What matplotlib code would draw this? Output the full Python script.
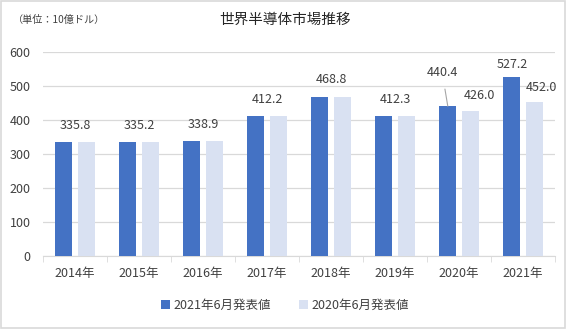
import matplotlib
matplotlib.use("Agg")
import matplotlib.pyplot as plt
import numpy as np

plt.rcParams["font.family"] = ["Noto Sans CJK JP", "DejaVu Sans"]

years = ["2014年", "2015年", "2016年", "2017年", "2018年", "2019年", "2020年", "2021年"]
jun2021 = [335.8, 335.2, 338.9, 412.2, 468.8, 412.3, 440.4, 527.2]
jun2020 = [335.8, 335.2, 338.9, 412.2, 468.8, 412.3, 426.0, 452.0]
series_names = ["2021年6月発表値", "2020年6月発表値"]
yticks = [0, 100, 200, 300, 400, 500, 600]

DARK = "#4472C4"
LIGHT = "#D9E1F2"
TEXT = "#404040"
GRID = "#D9D9D9"
FS = 9

fig = plt.figure(figsize=(5.67, 3.29), dpi=100)
ax = fig.add_axes([43 / 567, 1 - 256 / 329, 512 / 567, 204 / 329])

x = np.arange(len(years))
w = 0.27
off = 0.175
ax.bar(x - off, jun2021, width=w, color=DARK, label=series_names[0], zorder=3)
ax.bar(x + off, jun2020, width=w, color=LIGHT, label=series_names[1], zorder=3)

ax.set_xlim(-0.5, len(years) - 0.5)
ax.set_ylim(0, 600)
ax.set_yticks(yticks)
ax.set_xticks(x)
ax.set_xticklabels(years)
ax.set_xticks(np.arange(len(years) + 1) - 0.5, minor=True)
ax.tick_params(axis="x", which="major", length=0, pad=8, labelsize=FS, colors=TEXT)
ax.tick_params(axis="x", which="minor", length=4, color=GRID)
ax.tick_params(axis="y", length=0, pad=9, labelsize=FS, colors=TEXT)
ax.yaxis.grid(True, color=GRID, linewidth=0.9, zorder=0)
for side in ["top", "right", "left"]:
    ax.spines[side].set_visible(False)
ax.spines["bottom"].set_color(GRID)

# data labels: one shared label where both releases match
for i in range(len(years)):
    if jun2021[i] == jun2020[i]:
        ax.annotate(f"{jun2021[i]:.1f}", (x[i], jun2021[i]), xytext=(0, 12),
                    textcoords="offset points", ha="center", va="center",
                    fontsize=FS, color=TEXT)

# 2020: label pulled up with a leader line
i = 6
ax.annotate(f"{jun2021[i]:.1f}", (x[i] - off, jun2021[i]), xytext=(-4, 24),
            textcoords="offset points", ha="center", va="center",
            fontsize=FS, color=TEXT,
            arrowprops=dict(arrowstyle="-", color="#A6A6A6", lw=0.8, shrinkA=5, shrinkB=0))
ax.annotate(f"{jun2020[i]:.1f}", (x[i] + off, jun2020[i]), xytext=(7, 11),
            textcoords="offset points", ha="center", va="center",
            fontsize=FS, color=TEXT)

# 2021
i = 7
ax.annotate(f"{jun2021[i]:.1f}", (x[i] - off, jun2021[i]), xytext=(0, 9),
            textcoords="offset points", ha="center", va="center",
            fontsize=FS, color=TEXT)
ax.annotate(f"{jun2020[i]:.1f}", (x[i] + off, jun2020[i]), xytext=(5, 11),
            textcoords="offset points", ha="center", va="center",
            fontsize=FS, color=TEXT)

fig.text(285 / 567, 1 - 20 / 329, "世界半導体市場推移", ha="center", va="center",
         fontsize=10.5, color="#262626")
fig.text(13 / 567, 1 - 20 / 329, "（単位：10億ドル）", ha="left", va="center",
         fontsize=7.3, color=TEXT)

fig.legend(loc="center", bbox_to_anchor=(285 / 567, 1 - 305 / 329), ncol=2,
           frameon=False, fontsize=FS, handlelength=0.7, handleheight=0.7,
           handletextpad=0.3, columnspacing=2.2, labelcolor=TEXT)

fig.patches.append(plt.Rectangle((0.002, 0.003), 0.995, 0.994, transform=fig.transFigure,
                                 fill=False, edgecolor="#D9D9D9", linewidth=1.2))

fig.savefig("out.png", dpi=100)
